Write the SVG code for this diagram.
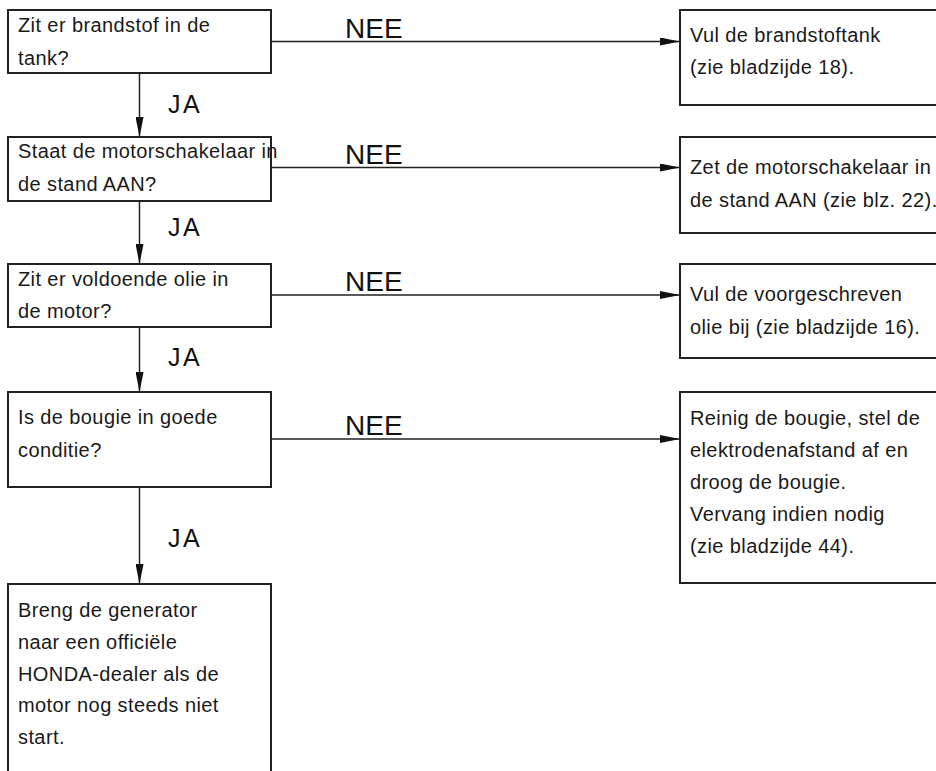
<svg xmlns="http://www.w3.org/2000/svg" width="936" height="771" viewBox="0 0 936 771">
<style>
.box{fill:#fff;stroke:#222;stroke-width:2}
.t{font-family:"Liberation Sans",Arial,sans-serif;font-size:20px;letter-spacing:0.4px;fill:#1a1a1a}
.ja{font-family:"Liberation Sans",Arial,sans-serif;font-size:25px;letter-spacing:2.5px;fill:#111}
.nee{font-family:"Liberation Sans",Arial,sans-serif;font-size:28px;fill:#111}
.c{stroke:#222;stroke-width:1.5;fill:none}
</style>
<defs>
<marker id="ah" markerWidth="20" markerHeight="8" refX="20" refY="4" orient="auto" markerUnits="userSpaceOnUse">
<path d="M0,0 L20,4 L0,8 Z" fill="#111"/>
</marker>
</defs>
<rect width="936" height="771" fill="#fff"/>
<g id="connectors">
<line class="c" x1="139.5" y1="73" x2="139.5" y2="137" marker-end="url(#ah)"/>
<line class="c" x1="139.5" y1="201" x2="139.5" y2="264" marker-end="url(#ah)"/>
<line class="c" x1="139.5" y1="327" x2="139.5" y2="392" marker-end="url(#ah)"/>
<line class="c" x1="139.5" y1="487" x2="139.5" y2="584" marker-end="url(#ah)"/>
<line class="c" x1="271" y1="41.5" x2="680" y2="41.5" marker-end="url(#ah)"/>
<line class="c" x1="271" y1="167.5" x2="680" y2="167.5" marker-end="url(#ah)"/>
<line class="c" x1="271" y1="295" x2="680" y2="295" marker-end="url(#ah)"/>
<line class="c" x1="271" y1="439" x2="680" y2="439" marker-end="url(#ah)"/>
<text class="ja" x="168" y="113">JA</text>
<text class="ja" x="168" y="236">JA</text>
<text class="ja" x="168" y="366">JA</text>
<text class="ja" x="168" y="547">JA</text>
<text class="nee" x="345" y="38">NEE</text>
<text class="nee" x="345" y="164">NEE</text>
<text class="nee" x="345" y="291">NEE</text>
<text class="nee" x="345" y="435">NEE</text>
</g>
<g id="q1">
<rect class="box" x="8" y="10" width="263" height="63"/>
<text class="t" x="18" y="32">Zit er brandstof in de</text>
<text class="t" x="18" y="65">tank?</text>
</g>
<g id="q2">
<rect class="box" x="8" y="137" width="263" height="64"/>
<text class="t" x="18" y="158">Staat de motorschakelaar in</text>
<text class="t" x="18" y="191">de stand AAN?</text>
</g>
<g id="q3">
<rect class="box" x="8" y="264" width="263" height="63"/>
<text class="t" x="18" y="286">Zit er voldoende olie in</text>
<text class="t" x="18" y="318">de motor?</text>
</g>
<g id="q4">
<rect class="box" x="8" y="392" width="263" height="95"/>
<text class="t" x="18" y="424">Is de bougie in goede</text>
<text class="t" x="18" y="457">conditie?</text>
</g>
<g id="end">
<rect class="box" x="8" y="584" width="263" height="200"/>
<text class="t" x="18" y="617">Breng de generator</text>
<text class="t" x="18" y="649">naar een officiële</text>
<text class="t" x="18" y="681">HONDA-dealer als de</text>
<text class="t" x="18" y="712">motor nog steeds niet</text>
<text class="t" x="18" y="744">start.</text>
</g>
<g id="a1">
<rect class="box" x="680" y="10" width="270" height="95"/>
<text class="t" x="690" y="42">Vul de brandstoftank</text>
<text class="t" x="690" y="74">(zie bladzijde 18).</text>
</g>
<g id="a2">
<rect class="box" x="680" y="137" width="270" height="96"/>
<text class="t" x="690" y="174">Zet de motorschakelaar in</text>
<text class="t" x="690" y="207">de stand AAN (zie blz. 22).</text>
</g>
<g id="a3">
<rect class="box" x="680" y="264" width="270" height="94"/>
<text class="t" x="690" y="301">Vul de voorgeschreven</text>
<text class="t" x="690" y="334">olie bij (zie bladzijde 16).</text>
</g>
<g id="a4">
<rect class="box" x="680" y="392" width="270" height="191"/>
<text class="t" x="690" y="425">Reinig de bougie, stel de</text>
<text class="t" x="690" y="457">elektrodenafstand af en</text>
<text class="t" x="690" y="489">droog de bougie.</text>
<text class="t" x="690" y="521">Vervang indien nodig</text>
<text class="t" x="690" y="553">(zie bladzijde 44).</text>
</g>
</svg>
